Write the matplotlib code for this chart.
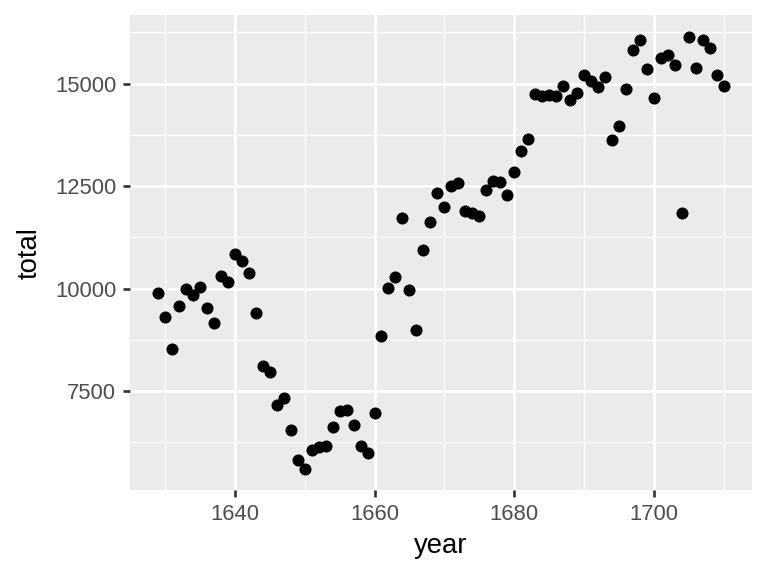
import matplotlib.pyplot as plt
from matplotlib.ticker import MultipleLocator

plt.rcParams['font.family'] = ['Liberation Sans', 'DejaVu Sans']

# Arbuthnot christenings, London
years = list(range(1629, 1711))
total = [9901, 9315, 8524, 9584, 9997, 9855, 10034, 9522, 9160, 10311,
         10150, 10850, 10670, 10370, 9410, 8104, 7966, 7163, 7332, 6544,
         5825, 5612, 6071, 6128, 6155, 6620, 7004, 7050, 6685, 6170,
         5990, 6971, 8855, 10019, 10292, 11722, 9972, 8997, 10938, 11633,
         12335, 11997, 12510, 12563, 11895, 11851, 11775, 12399, 12626, 12601,
         12288, 12847, 13355, 13653, 14735, 14702, 14730, 14694, 14951, 14588,
         14771, 15211, 15054, 14918, 15159, 13632, 13976, 14861, 15829, 16052,
         15363, 14639, 15616, 15687, 15448, 11851, 16145, 15369, 16066, 15862,
         15220, 14928]

fig = plt.figure(figsize=(8, 6), dpi=96)
ax = fig.add_axes([0.169, 0.149, 0.81, 0.825])
ax.set_facecolor('#EBEBEB')

ax.scatter(years, total, s=82, color='black', linewidths=0, zorder=3)

xr = max(years) - min(years)
yr = max(total) - min(total)
ax.set_xlim(min(years) - 0.05 * xr, max(years) + 0.05 * xr)
ax.set_ylim(min(total) - 0.05 * yr, max(total) + 0.05 * yr)

ax.xaxis.set_major_locator(MultipleLocator(20))
ax.xaxis.set_minor_locator(MultipleLocator(10))
ax.yaxis.set_major_locator(MultipleLocator(2500))
ax.yaxis.set_minor_locator(MultipleLocator(1250))

ax.grid(which='major', color='white', linewidth=2.2)
ax.grid(which='minor', color='white', linewidth=1.1)
ax.set_axisbelow(True)
for s in ax.spines.values():
    s.set_visible(False)

ax.tick_params(which='major', length=5.2, width=2.0, color='#333333',
               labelsize=16.5, labelcolor='#4D4D4D', pad=5)
ax.tick_params(which='minor', length=0)

ax.set_xlabel('year', fontsize=20.6, labelpad=6.5)
ax.set_ylabel('total', fontsize=20.6, labelpad=9)

fig.savefig('out.png', dpi=96)
